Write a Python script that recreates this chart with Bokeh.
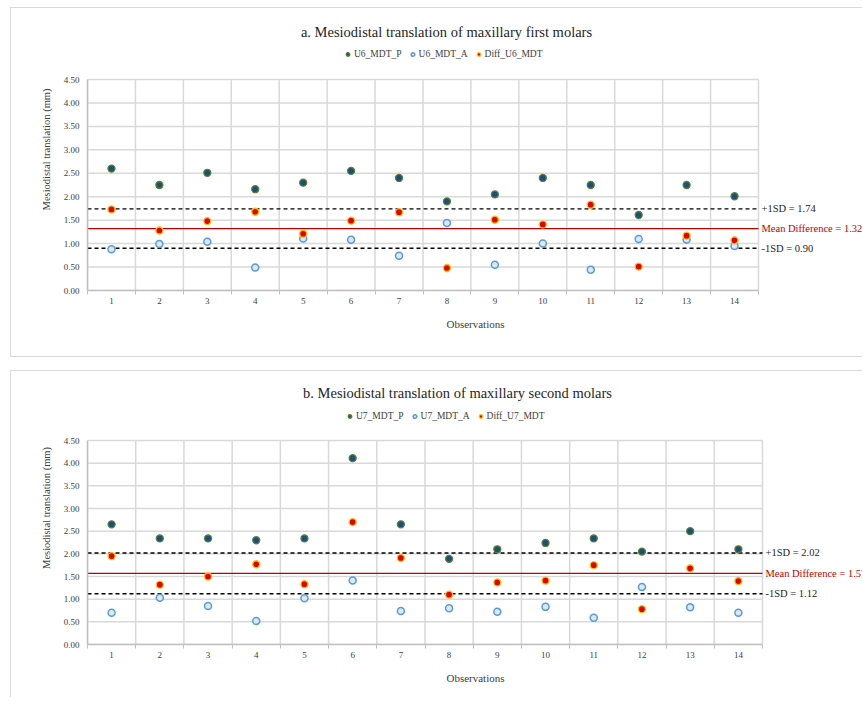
from bokeh.plotting import figure
from bokeh.models import FixedTicker, NumeralTickFormatter, Legend, LegendItem, Range1d
from bokeh.layouts import column
from bokeh.embed import file_html
from bokeh.resources import INLINE

# ---------------- data ----------------
obs = list(range(1, 15))
obs_labels = [str(o) for o in obs]
y_ticks = [0.0, 0.5, 1.0, 1.5, 2.0, 2.5, 3.0, 3.5, 4.0, 4.5]

u6_p = [2.60, 2.25, 2.51, 2.16, 2.30, 2.55, 2.40, 1.90, 2.05, 2.40, 2.25, 1.61, 2.25, 2.01]
u6_a = [0.88, 0.99, 1.04, 0.49, 1.11, 1.08, 0.74, 1.44, 0.55, 1.00, 0.44, 1.10, 1.09, 0.95]
u6_diff = [1.73, 1.28, 1.48, 1.68, 1.21, 1.49, 1.67, 0.48, 1.51, 1.41, 1.83, 0.51, 1.17, 1.07]
u6_mean, u6_plus, u6_minus = 1.32, 1.74, 0.90

u7_p = [2.65, 2.34, 2.34, 2.30, 2.34, 4.11, 2.65, 1.89, 2.10, 2.24, 2.34, 2.05, 2.50, 2.10]
u7_a = [0.70, 1.03, 0.85, 0.52, 1.02, 1.41, 0.74, 0.80, 0.72, 0.83, 0.59, 1.27, 0.82, 0.70]
u7_diff = [1.95, 1.32, 1.50, 1.77, 1.33, 2.70, 1.91, 1.10, 1.37, 1.41, 1.75, 0.78, 1.68, 1.40]
u7_mean, u7_plus, u7_minus = 1.57, 2.02, 1.12

FONT = "Liberation Serif"
GRID = "#d9d9d9"
AXIS = "#bfbfbf"
TXT = "#404040"


def make_panel(title, names, p_vals, a_vals, d_vals, mean, plus, minus,
               height, bottom, plot_h, plot_w, title_px, legend_px, border_style):
    width = 852
    left = 76
    frame_w = width - left
    frame_h = height - bottom
    x0, x1 = obs[0] - 0.5, obs[-1] + 0.5
    y0, y1 = y_ticks[0], y_ticks[-1]
    sx = (x1 - x0) / plot_w          # data units per pixel
    sy = (y1 - y0) / plot_h
    p = figure(width=width, height=height, output_backend="svg", toolbar_location=None,
               x_range=Range1d(x0, x0 + frame_w * sx), y_range=Range1d(y0, y0 + frame_h * sy),
               min_border_left=left, min_border_right=0,
               min_border_top=0, min_border_bottom=bottom,
               outline_line_color=None, background_fill_color="white",
               border_fill_color="white", styles=border_style)
    p.title.visible = False
    p.xgrid.visible = False
    p.ygrid.visible = False

    # axes
    bounds = [o - 0.5 for o in obs] + [obs[-1] + 0.5]
    p.xaxis.bounds = (x0, x1)
    p.xaxis.ticker = FixedTicker(ticks=obs, minor_ticks=bounds)
    p.xaxis.major_label_overrides = {o: l for o, l in zip(obs, obs_labels)}
    p.xaxis.major_tick_line_color = None
    p.xaxis.major_tick_out = 0
    p.xaxis.major_tick_in = 0
    p.xaxis.minor_tick_line_color = AXIS
    p.xaxis.minor_tick_in = 0
    p.xaxis.minor_tick_out = 4
    p.xaxis.axis_line_color = AXIS
    p.xaxis.axis_line_width = 1.5
    p.xaxis.major_label_text_font = FONT
    p.xaxis.major_label_text_font_size = "9px"
    p.xaxis.major_label_text_color = TXT
    p.xaxis.major_label_standoff = 3
    p.xaxis.axis_label = "Observations"
    p.xaxis.axis_label_text_font = FONT
    p.xaxis.axis_label_text_font_style = "normal"
    p.xaxis.axis_label_text_font_size = "11px"
    p.xaxis.axis_label_text_color = TXT
    p.xaxis.axis_label_standoff = 11

    p.yaxis.bounds = (y0, y1)
    p.yaxis.ticker = FixedTicker(ticks=y_ticks)
    p.yaxis.formatter = NumeralTickFormatter(format="0.00")
    p.yaxis.major_tick_line_color = None
    p.yaxis.major_tick_out = 0
    p.yaxis.major_tick_in = 0
    p.yaxis.minor_tick_line_color = None
    p.yaxis.axis_line_color = AXIS
    p.yaxis.axis_line_width = 1.5
    p.yaxis.major_label_text_font = FONT
    p.yaxis.major_label_text_font_size = "9px"
    p.yaxis.major_label_text_color = TXT
    p.yaxis.major_label_standoff = 8
    p.yaxis.axis_label = "Mesiodistal translation (mm)"
    p.yaxis.axis_label_text_font = FONT
    p.yaxis.axis_label_text_font_style = "normal"
    p.yaxis.axis_label_text_font_size = "10.5px"
    p.yaxis.axis_label_text_color = TXT
    p.yaxis.axis_label_standoff = 9

    # grid lines, bounded to the plot area
    p.segment(x0=[x0] * len(y_ticks), x1=[x1] * len(y_ticks), y0=y_ticks, y1=y_ticks,
              line_color=GRID, line_width=1.5)
    p.segment(x0=bounds, x1=bounds, y0=[y0] * len(bounds), y1=[y1] * len(bounds),
              line_color=GRID, line_width=1.5)

    # reference lines
    p.segment(x0=[x0, x0], x1=[x1, x1], y0=[plus, minus], y1=[plus, minus],
              line_color="black", line_dash="4 3", line_width=1.4)
    p.segment(x0=[x0], x1=[x1], y0=[mean], y1=[mean], line_color="#C00000", line_width=1.3)
    p.text(x=[x1] * 3, y=[plus, mean, minus],
           text=[f"+1SD = {plus:.2f}", f"Mean Difference = {mean:.2f}", f"-1SD = {minus:.2f}"],
           text_color=["#262626", "#C00000", "#262626"], x_offset=3,
           text_font=FONT, text_font_size="10.5px", text_baseline="middle", text_align="left")

    # points
    r1 = p.scatter(obs, p_vals, size=7, marker="circle", fill_color="#1F4E79",
                   line_color="#548235", line_width=1.3)
    r2 = p.scatter(obs, a_vals, size=7, marker="circle", fill_color="#DCE9F5",
                   line_color="#5B9BD5", line_width=1.5)
    r3 = p.scatter(obs, d_vals, size=7, marker="circle", fill_color="#E00000",
                   line_color="#FFC000", line_width=1.3)

    # title
    p.text(x=[x0 + title_px[0] * sx], y=[y1 + title_px[1] * sy], text=[title],
           text_font=FONT, text_font_size="14.5px", text_color="#262626",
           text_align="center", text_baseline="middle")

    legend = Legend(items=[LegendItem(label=names[0], renderers=[r1]),
                           LegendItem(label=names[1], renderers=[r2]),
                           LegendItem(label=names[2], renderers=[r3])],
                    orientation="horizontal",
                    location=(legend_px[0], plot_h + legend_px[1]),
                    border_line_color=None, background_fill_alpha=0,
                    padding=0, margin=0, spacing=6, label_standoff=2,
                    glyph_width=9, glyph_height=12, label_height=12,
                    label_text_font=FONT, label_text_font_size="9.5px",
                    label_text_color=TXT)
    p.add_layout(legend, "center")
    return p


p1 = make_panel("a. Mesiodistal translation of maxillary first molars",
                ["U6_MDT_P", "U6_MDT_A", "Diff_U6_MDT"],
                u6_p, u6_a, u6_diff, u6_mean, u6_plus, u6_minus,
                height=350, bottom=68, plot_h=211, plot_w=671,
                title_px=(359, 48), legend_px=(256, 19),
                border_style={"border-top": "1px solid #d9d9d9",
                              "border-left": "1px solid #d9d9d9",
                              "border-bottom": "1px solid #d9d9d9",
                              "margin-left": "10px", "margin-top": "7px"})

p2 = make_panel("b. Mesiodistal translation of maxillary second molars",
                ["U7_MDT_P", "U7_MDT_A", "Diff_U7_MDT"],
                u7_p, u7_a, u7_diff, u7_mean, u7_plus, u7_minus,
                height=327, bottom=54, plot_h=204, plot_w=675,
                title_px=(370, 48), legend_px=(258, 18),
                border_style={"border-top": "1px solid #d9d9d9",
                              "border-left": "1px solid #d9d9d9",
                              "margin-left": "10px"})

layout = column(p1, p2, spacing=13)
open("out.html", "w").write(file_html(layout, INLINE))
